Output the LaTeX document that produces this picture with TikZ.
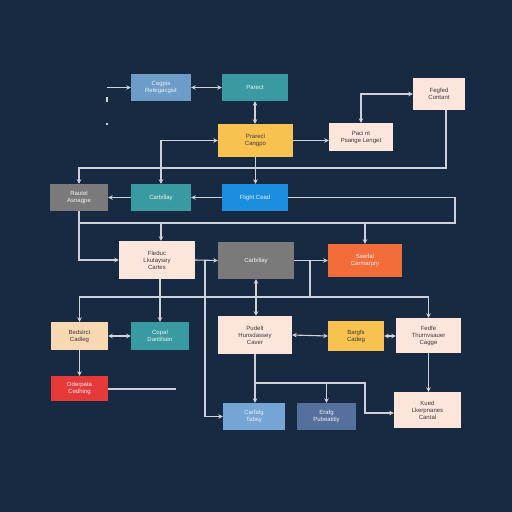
\documentclass[tikz,border=0pt]{standalone}
\usepackage{fontspec}
\setmainfont{Liberation Sans}
\usetikzlibrary{arrows.meta,calc}
\definecolor{bg}{HTML}{182A42}
\definecolor{ln}{HTML}{CDD2DA}
\definecolor{lblue}{HTML}{6D9CC8}
\definecolor{teal}{HTML}{3A9AA2}
\definecolor{yel}{HTML}{F7C24F}
\definecolor{peach}{HTML}{FCE5DB}
\definecolor{bblue}{HTML}{1B8EE0}
\definecolor{gry}{HTML}{7A7A7A}
\definecolor{orng}{HTML}{F26D3A}
\definecolor{lorng}{HTML}{F8D8B2}
\definecolor{rd}{HTML}{E63A3A}
\definecolor{lblue2}{HTML}{74A5D4}
\definecolor{slate}{HTML}{56709E}
\definecolor{dtxt}{HTML}{3A3A3A}
\definecolor{ltxt}{HTML}{EEF2F6}
\tikzset{
  box/.style={draw=none,inner sep=1pt,align=center,font=\fontsize{6}{7}\selectfont},
  dk/.style={box,text=ltxt},
  lt/.style={box,text=dtxt},
  conn/.style={draw=ln,line width=1.1pt},
  arr/.style={conn,-{Stealth[length=4.5pt,width=4.5pt]}},
  dbl/.style={conn,{Stealth[length=4.5pt,width=4.5pt]}-{Stealth[length=4.5pt,width=4.5pt]}},
}
\begin{document}
\begin{tikzpicture}[x=1pt,y=-1pt]
\fill[bg] (0,0) rectangle (512,512);
\useasboundingbox (0,0) rectangle (512,512);
% nodes
\node[dk,fill=lblue,minimum width=60pt,minimum height=27pt] (B1) at (161,87.5) {Cagpis\\Refegacgist};
\node[dk,fill=teal,minimum width=66pt,minimum height=27pt] (B2) at (255,87.5) {Parect};
\node[lt,fill=yel,minimum width=75pt,minimum height=33pt] (B3) at (255.5,140.5) {Prarecl\\Cangpo};
\node[lt,fill=peach,minimum width=64pt,minimum height=28pt] (B4) at (361,137) {Paci nt\\Psange Lenget};
\node[lt,fill=peach,minimum width=52pt,minimum height=32pt] (B5) at (439,94) {Fegfed\\Contant};
\node[dk,fill=gry,minimum width=58pt,minimum height=27pt] (B6) at (79,197.5) {Rautel\\Asnagpe};
\node[dk,fill=teal,minimum width=60pt,minimum height=27pt] (B7) at (161,197.5) {Carbillay};
\node[dk,fill=bblue,minimum width=66pt,minimum height=27pt] (B8) at (255,197.5) {Flight Cead};
\node[lt,fill=peach,minimum width=76pt,minimum height=38pt] (B9) at (157,260) {Fleduc\\Lkutaysey\\Cartes};
\node[dk,fill=gry,minimum width=76pt,minimum height=37pt] (B10) at (256,260.5) {Carbillay};
\node[dk,fill=orng,minimum width=74pt,minimum height=33pt] (B11) at (365,260.5) {Swefal\\Carmarpry};
\node[lt,fill=lorng,minimum width=57pt,minimum height=28pt] (B12) at (79.5,336) {Bedslrct\\Cadleg};
\node[dk,fill=teal,minimum width=58pt,minimum height=28pt] (B13) at (160,336) {Copal\\Dantilsen};
\node[lt,fill=peach,minimum width=74pt,minimum height=38pt] (B14) at (255,335) {Pudelt\\Hunsdassey\\Caver};
\node[lt,fill=yel,minimum width=56pt,minimum height=30pt] (B15) at (356,336) {Bargfs\\Cadeg};
\node[lt,fill=peach,minimum width=65pt,minimum height=35pt] (B16) at (428.5,335.5) {Fedfe\\Thurnvsauer\\Cagge};
\node[dk,fill=rd,minimum width=57pt,minimum height=25pt] (B17) at (79.5,388.5) {Oderpata\\Cedhing};
\node[dk,fill=lblue2,minimum width=62pt,minimum height=27pt] (B18) at (254,416.5) {Carfalg\\Tabsy};
\node[dk,fill=slate,minimum width=59pt,minimum height=27pt] (B19) at (326.5,416.5) {Erafg\\Pubeatitiy};
\node[lt,fill=peach,minimum width=67pt,minimum height=36pt] (B20) at (427.5,410) {Kued\\Lkerpnanes\\Cantal};
% helper coordinates
\coordinate (s1) at (107,87.5);
\coordinate (s2a) at (107,97);
\coordinate (s2b) at (107,102);
\coordinate (s3a) at (107,123);
\coordinate (s3b) at (107,125);
\coordinate (h1) at (0,168);
\coordinate (h2) at (0,223);
\coordinate (v1) at (455,0);
\coordinate (h3) at (0,297);
\coordinate (v2) at (310,0);
\coordinate (v3) at (205,0);
\coordinate (h4) at (0,383);
\coordinate (v4) at (365,0);
\coordinate (e1) at (176,389);
% connectors
\draw[arr] (s1) -- (s1 -| B1.west);
\draw[conn] (s2a) -- (s2b);
\draw[conn] (s3a) -- (s3b);
\draw[dbl] (B1.east) -- (B2.west);
\draw[dbl] (B2.south) -- (B2.south |- B3.north);
\draw[dbl] (B7.north) |- (B3.west);
\draw[arr] (B3.east) -- (B3.east -| B4.west);
\draw[dbl] (B4.north) |- (B5.west);
\draw[arr] ([xshift=7pt]B5.south) -- ([xshift=7pt]B5.south |- h1) -- (h1 -| B6.north) -- (B6.north);
\draw[arr] (B3.south) -- (B3.south |- B8.north);
\draw[arr] (B8.west) -- (B7.east);
\draw[arr] (B7.west) -- (B6.east);
\draw[conn] (B8.east) -- (B8.east -| v1) -- (v1 |- h2) -- (h2 -| B6.south);
\draw[arr] (B6.south) |- (B9.west);
\draw[arr] (h2 -| B7.north) -- (B9.north -| B7.north);
\draw[arr] (h2 -| B11.north) -- (B11.north);
\draw[arr] (B9.east) -- (B10.west);
\draw[arr] (B10.east) -- (B11.west);
\draw[arr] (v3 |- B9.east) |- (B18.west);
\draw[arr] (v2 |- B10.east) -- (v2 |- h3) -- (h3 -| B12.north) -- (B12.north);
\draw[arr] (h3 -| v2) -| (B16.north);
\draw[arr] (B13.north |- B9.south) -- (B13.north);
\draw[dbl] (B10.south) -- (B10.south |- B14.north);
\draw[dbl] (B12.east) -- (B13.west);
\draw[arr] (B12.south) -- (B17.north);
\draw[conn] (B17.east |- e1) -- (e1);
\draw[dbl] (B14.east) -- (B15.west);
\draw[dbl] (B15.east) -- (B15.east -| B16.west);
\draw[arr] (B16.south) -- (B16.south |- B20.north);
\draw[arr] (B14.south) -- (B14.south |- B18.north);
\draw[arr] (B14.south |- h4) -- (v4 |- h4) |- ([yshift=-3pt]B20.west);
\draw[arr] (B19.north |- h4) -- (B19.north);
\end{tikzpicture}
\end{document}
